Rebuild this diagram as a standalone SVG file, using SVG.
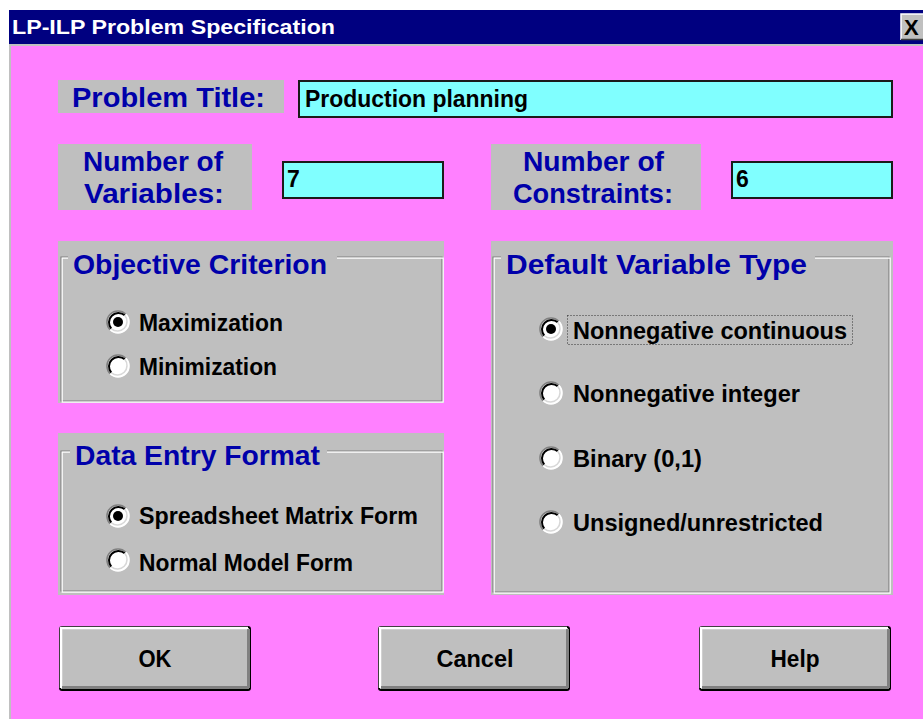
<svg xmlns="http://www.w3.org/2000/svg" width="923" height="719" viewBox="0 0 923 719">
  <defs>
    <style>
      .lbl { font-family: "Liberation Sans", Arial, sans-serif; font-weight: bold; fill: #0000AA; font-size: 28px; }
      .txt { font-family: "Liberation Sans", Arial, sans-serif; font-weight: bold; fill: #000000; font-size: 23px; }
      .btn { font-family: "Liberation Sans", Arial, sans-serif; font-weight: bold; fill: #000000; font-size: 24px; text-anchor: middle; }
      .panel { fill: #BFBFBF; }
      .field { fill: #80FFFF; stroke: #1a1a1a; stroke-width: 2; }
      .etchD { fill: none; stroke: #808080; stroke-width: 1.2; }
      .etchL { fill: none; stroke: #FFFFFF; stroke-width: 1.2; }
    </style>
    <!-- sunken radio button, unselected -->
    <g id="radio">
      <circle r="11" fill="#FFFFFF"/>
      <path d="M -7.8 7.8 A 11 11 0 0 1 7.8 -7.8" fill="none" stroke="#808080" stroke-width="1.6"/>
      <path d="M -6.7 6.7 A 9.5 9.5 0 0 1 6.7 -6.7" fill="none" stroke="#000000" stroke-width="2"/>
      <path d="M 7.8 -7.8 A 11 11 0 0 1 -7.8 7.8" fill="none" stroke="#FFFFFF" stroke-width="1.5"/>
      <path d="M 6.7 -6.7 A 9.5 9.5 0 0 1 -6.7 6.7" fill="none" stroke="#D8D8D8" stroke-width="1.5"/>
    </g>
    <g id="radioOn">
      <use href="#radio"/>
      <circle r="5" fill="#000000"/>
    </g>
    <!-- raised push button face -->
    <g id="button">
      <rect x="0" y="0" width="192" height="65" rx="3" fill="#000000"/>
      <rect x="2" y="2" width="188" height="61" fill="#BFBFBF"/>
      <path d="M2 62 V2 H189" fill="none" stroke="#FFFFFF" stroke-width="2.5"/>
      <path d="M3 61.5 H190 M189.5 3 V62" fill="none" stroke="#808080" stroke-width="3"/>
    </g>
  </defs>

  <!-- window chrome -->
  <rect x="0" y="0" width="923" height="719" fill="#FFFFFF"/>
  <rect x="9" y="10" width="914" height="709" fill="#C0C0C0"/>
  <rect x="11" y="46" width="912" height="673" fill="#FF80FF"/>
  <g id="titlebar">
    <rect x="9" y="10" width="914" height="34" fill="#000080"/>
    <text x="12" y="34" font-family="'Liberation Sans', Arial, sans-serif" font-weight="bold" font-size="21" fill="#FFFFFF" textLength="323" lengthAdjust="spacingAndGlyphs">LP-ILP Problem Specification</text>
    <g id="close">
      <rect x="901" y="14" width="24" height="26" fill="#C0C0C0"/>
      <path d="M901 40 V14 H925" fill="none" stroke="#FFFFFF" stroke-width="1.5"/>
      <path d="M901 39.5 H925" stroke="#404040" stroke-width="1.5"/>
      <text x="904" y="35" font-family="'Liberation Sans', Arial, sans-serif" font-weight="bold" font-size="22" fill="#000000">X</text>
    </g>
  </g>

  <!-- problem title -->
  <g id="title-label">
    <rect x="58" y="80" width="226" height="33" class="panel"/>
    <text x="72" y="107" class="lbl" textLength="193" lengthAdjust="spacingAndGlyphs">Problem Title:</text>
  </g>
  <g id="title-field">
    <rect x="299" y="81" width="593" height="36" class="field"/>
    <text x="305" y="107" class="txt" font-size="24" textLength="223" lengthAdjust="spacingAndGlyphs">Production planning</text>
  </g>

  <!-- counts -->
  <g id="vars-label">
    <rect x="58" y="144" width="194" height="66" class="panel"/>
    <text x="83" y="171" class="lbl" textLength="140" lengthAdjust="spacingAndGlyphs">Number of</text>
    <text x="84" y="203" class="lbl" textLength="140" lengthAdjust="spacingAndGlyphs">Variables:</text>
  </g>
  <g id="vars-field">
    <rect x="283" y="162" width="160" height="36" class="field"/>
    <text x="287" y="187" class="txt" font-size="24">7</text>
  </g>
  <g id="cons-label">
    <rect x="491" y="144" width="210" height="66" class="panel"/>
    <text x="523" y="171" class="lbl" textLength="141" lengthAdjust="spacingAndGlyphs">Number of</text>
    <text x="513" y="203" class="lbl" textLength="160" lengthAdjust="spacingAndGlyphs">Constraints:</text>
  </g>
  <g id="cons-field">
    <rect x="732" y="162" width="160" height="36" class="field"/>
    <text x="736" y="187" class="txt" font-size="24">6</text>
  </g>

  <!-- objective criterion group -->
  <g id="objective">
    <rect x="58" y="241" width="386" height="162" class="panel"/>
    <path d="M68 257 H61 V401 H442 V257 H337" class="etchD"/>
    <path d="M68 258.2 H62.2 V402.2 H443.2 V258.2 H337" class="etchL"/>
    <text x="73" y="274" class="lbl" textLength="254" lengthAdjust="spacingAndGlyphs">Objective Criterion</text>
    <use href="#radioOn" x="118" y="322"/>
    <text x="139" y="331" class="txt" textLength="144" lengthAdjust="spacingAndGlyphs">Maximization</text>
    <use href="#radio" x="118" y="366"/>
    <text x="139" y="375" class="txt" textLength="138" lengthAdjust="spacingAndGlyphs">Minimization</text>
  </g>

  <!-- data entry format group -->
  <g id="data-entry">
    <rect x="58" y="433" width="386" height="162" class="panel"/>
    <path d="M70 451 H61 V591 H442 V451 H327" class="etchD"/>
    <path d="M70 452.2 H62.2 V592.2 H443.2 V452.2 H327" class="etchL"/>
    <text x="75" y="465" class="lbl" textLength="245" lengthAdjust="spacingAndGlyphs">Data Entry Format</text>
    <use href="#radioOn" x="118" y="516"/>
    <text x="139" y="524" class="txt" textLength="279" lengthAdjust="spacingAndGlyphs">Spreadsheet Matrix Form</text>
    <use href="#radio" x="118" y="560"/>
    <text x="139" y="571" class="txt" textLength="214" lengthAdjust="spacingAndGlyphs">Normal Model Form</text>
  </g>

  <!-- default variable type group -->
  <g id="var-type">
    <rect x="491" y="241" width="402" height="354" class="panel"/>
    <path d="M501 257 H493 V592 H889 V257 H815" class="etchD"/>
    <path d="M501 258.2 H494.2 V593.2 H890.2 V258.2 H815" class="etchL"/>
    <text x="506" y="274" class="lbl" textLength="301" lengthAdjust="spacingAndGlyphs">Default Variable Type</text>
    <use href="#radioOn" x="551" y="329"/>
    <rect x="567.5" y="315.5" width="285" height="29" fill="none" stroke="#303030" stroke-width="1" stroke-dasharray="1 2"/>
    <text x="573" y="339" class="txt" textLength="274" lengthAdjust="spacingAndGlyphs">Nonnegative continuous</text>
    <use href="#radio" x="551" y="393"/>
    <text x="573" y="402" class="txt" textLength="227" lengthAdjust="spacingAndGlyphs">Nonnegative integer</text>
    <use href="#radio" x="551" y="458"/>
    <text x="573" y="467" class="txt" textLength="129" lengthAdjust="spacingAndGlyphs">Binary (0,1)</text>
    <use href="#radio" x="551" y="522"/>
    <text x="573" y="531" class="txt" textLength="250" lengthAdjust="spacingAndGlyphs">Unsigned/unrestricted</text>
  </g>

  <!-- push buttons -->
  <g id="btn-ok">
    <use href="#button" x="59" y="626"/>
    <text x="155" y="667" class="btn" textLength="33" lengthAdjust="spacingAndGlyphs">OK</text>
  </g>
  <g id="btn-cancel">
    <use href="#button" x="378" y="626"/>
    <text x="475" y="667" class="btn" textLength="77" lengthAdjust="spacingAndGlyphs">Cancel</text>
  </g>
  <g id="btn-help">
    <use href="#button" x="699" y="626"/>
    <text x="795" y="667" class="btn" textLength="49" lengthAdjust="spacingAndGlyphs">Help</text>
  </g>
</svg>
